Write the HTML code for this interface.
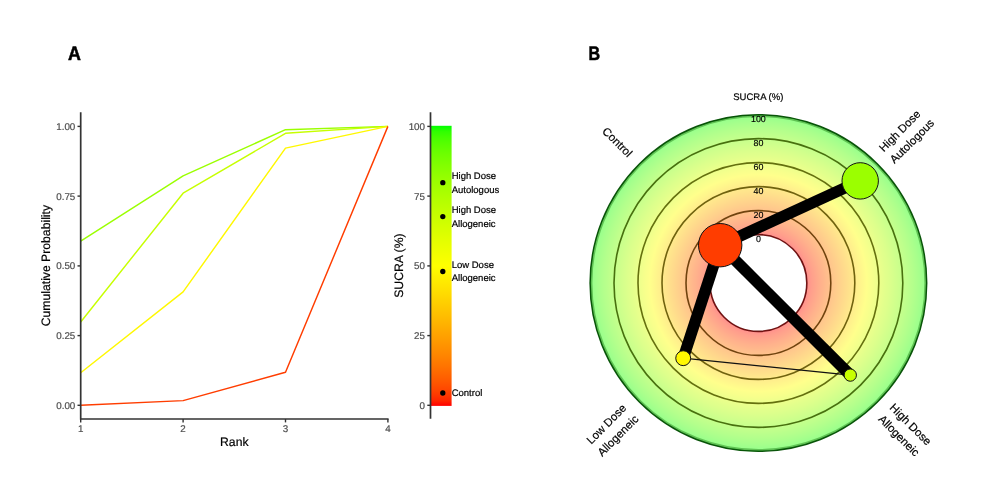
<!DOCTYPE html>
<html lang="en"><head><meta charset="utf-8"><title>SUCRA</title>
<style>
html,body{margin:0;padding:0;background:#fff;}
body{width:986px;height:501px;overflow:hidden;}
svg{display:block;}
text{font-family:"Liberation Sans", Arial, Helvetica, sans-serif;text-rendering:geometricPrecision;}
.tk{font-size:9.8px;fill:#4d4d4d;stroke:#4d4d4d;stroke-width:0.2px;}
.ttl{font-size:12.2px;fill:#000;stroke:#000;stroke-width:0.2px;}
.cb{font-size:9.5px;fill:#000;stroke:#000;stroke-width:0.2px;}
.rl{font-size:8.9px;fill:#000;text-anchor:middle;stroke:#000;stroke-width:0.15px;}
.pl{font-size:11.4px;fill:#000;text-anchor:middle;stroke:#000;stroke-width:0.2px;}
.hd{font-size:19.6px;font-weight:bold;fill:#000;stroke:#000;stroke-width:0.55px;}
</style></head><body>
<svg width="986" height="501" viewBox="0 0 986 501">
<defs>
<linearGradient id="cbg" x1="0" y1="0" x2="0" y2="1">
<stop offset="0.000" stop-color="#00ff00"/>
<stop offset="0.020" stop-color="#2fff00"/>
<stop offset="0.040" stop-color="#44ff00"/>
<stop offset="0.060" stop-color="#54ff00"/>
<stop offset="0.080" stop-color="#61ff00"/>
<stop offset="0.100" stop-color="#6dff00"/>
<stop offset="0.120" stop-color="#77ff00"/>
<stop offset="0.140" stop-color="#81ff00"/>
<stop offset="0.160" stop-color="#8aff00"/>
<stop offset="0.180" stop-color="#93ff00"/>
<stop offset="0.200" stop-color="#9bff00"/>
<stop offset="0.220" stop-color="#a3ff00"/>
<stop offset="0.240" stop-color="#aaff00"/>
<stop offset="0.260" stop-color="#b2ff00"/>
<stop offset="0.280" stop-color="#b9ff00"/>
<stop offset="0.300" stop-color="#c0ff00"/>
<stop offset="0.320" stop-color="#c6ff00"/>
<stop offset="0.340" stop-color="#cdff00"/>
<stop offset="0.360" stop-color="#d4ff00"/>
<stop offset="0.380" stop-color="#daff00"/>
<stop offset="0.400" stop-color="#e1ff00"/>
<stop offset="0.420" stop-color="#e7ff00"/>
<stop offset="0.440" stop-color="#edff00"/>
<stop offset="0.460" stop-color="#f3ff00"/>
<stop offset="0.480" stop-color="#f9ff00"/>
<stop offset="0.500" stop-color="#ffff00"/>
<stop offset="0.520" stop-color="#fff800"/>
<stop offset="0.540" stop-color="#fff000"/>
<stop offset="0.560" stop-color="#ffe900"/>
<stop offset="0.580" stop-color="#ffe200"/>
<stop offset="0.600" stop-color="#ffdb00"/>
<stop offset="0.620" stop-color="#ffd300"/>
<stop offset="0.640" stop-color="#ffcc00"/>
<stop offset="0.660" stop-color="#ffc400"/>
<stop offset="0.680" stop-color="#ffbd00"/>
<stop offset="0.700" stop-color="#ffb500"/>
<stop offset="0.720" stop-color="#ffad00"/>
<stop offset="0.740" stop-color="#ffa500"/>
<stop offset="0.760" stop-color="#ff9d00"/>
<stop offset="0.780" stop-color="#ff9500"/>
<stop offset="0.800" stop-color="#ff8d00"/>
<stop offset="0.820" stop-color="#ff8500"/>
<stop offset="0.840" stop-color="#ff7c00"/>
<stop offset="0.860" stop-color="#ff7300"/>
<stop offset="0.880" stop-color="#ff6900"/>
<stop offset="0.900" stop-color="#ff5f00"/>
<stop offset="0.920" stop-color="#ff5400"/>
<stop offset="0.940" stop-color="#ff4800"/>
<stop offset="0.960" stop-color="#ff3900"/>
<stop offset="0.980" stop-color="#ff2700"/>
<stop offset="1.000" stop-color="#ff0000"/>
</linearGradient>
<radialGradient id="rg" gradientUnits="userSpaceOnUse" cx="758.4" cy="283.0" r="168.40">
<stop offset="0" stop-color="#ff8c8c"/>
<stop offset="0.2874" stop-color="#ff8c8c"/>
<stop offset="0.3017" stop-color="#ff978c"/>
<stop offset="0.3159" stop-color="#ff9e8c"/>
<stop offset="0.3302" stop-color="#ffa38c"/>
<stop offset="0.3444" stop-color="#ffa88c"/>
<stop offset="0.3587" stop-color="#ffad8c"/>
<stop offset="0.3729" stop-color="#ffb28c"/>
<stop offset="0.3872" stop-color="#ffb68c"/>
<stop offset="0.4014" stop-color="#ffbb8c"/>
<stop offset="0.4157" stop-color="#ffbf8c"/>
<stop offset="0.4299" stop-color="#ffc38c"/>
<stop offset="0.4442" stop-color="#ffc78c"/>
<stop offset="0.4584" stop-color="#ffcb8c"/>
<stop offset="0.4727" stop-color="#ffcf8c"/>
<stop offset="0.4869" stop-color="#ffd38c"/>
<stop offset="0.5012" stop-color="#ffd78c"/>
<stop offset="0.5154" stop-color="#ffdb8c"/>
<stop offset="0.5297" stop-color="#ffdf8c"/>
<stop offset="0.5439" stop-color="#ffe38c"/>
<stop offset="0.5582" stop-color="#ffe78c"/>
<stop offset="0.5724" stop-color="#ffeb8c"/>
<stop offset="0.5867" stop-color="#ffef8c"/>
<stop offset="0.6010" stop-color="#fff38c"/>
<stop offset="0.6152" stop-color="#fff78c"/>
<stop offset="0.6295" stop-color="#fffb8c"/>
<stop offset="0.6437" stop-color="#ffff8c"/>
<stop offset="0.6580" stop-color="#fbff8c"/>
<stop offset="0.6722" stop-color="#f8ff8c"/>
<stop offset="0.6865" stop-color="#f4ff8c"/>
<stop offset="0.7007" stop-color="#f0ff8c"/>
<stop offset="0.7150" stop-color="#edff8c"/>
<stop offset="0.7292" stop-color="#e9ff8c"/>
<stop offset="0.7435" stop-color="#e5ff8c"/>
<stop offset="0.7577" stop-color="#e1ff8c"/>
<stop offset="0.7720" stop-color="#deff8c"/>
<stop offset="0.7862" stop-color="#daff8c"/>
<stop offset="0.8005" stop-color="#d6ff8c"/>
<stop offset="0.8147" stop-color="#d2ff8c"/>
<stop offset="0.8290" stop-color="#ceff8c"/>
<stop offset="0.8432" stop-color="#caff8c"/>
<stop offset="0.8575" stop-color="#c6ff8c"/>
<stop offset="0.8717" stop-color="#c2ff8c"/>
<stop offset="0.8860" stop-color="#beff8c"/>
<stop offset="0.9002" stop-color="#b9ff8c"/>
<stop offset="0.9145" stop-color="#b5ff8c"/>
<stop offset="0.9287" stop-color="#b0ff8c"/>
<stop offset="0.9430" stop-color="#abff8c"/>
<stop offset="0.9572" stop-color="#a6ff8c"/>
<stop offset="0.9715" stop-color="#a0ff8c"/>
<stop offset="0.9857" stop-color="#99ff8c"/>
<stop offset="1.0000" stop-color="#8cff8c"/>
</radialGradient>
</defs>
<rect width="986" height="501" fill="#fff"/>
<text class="hd" x="67.9" y="59.7" textLength="12.9" lengthAdjust="spacingAndGlyphs">A</text>
<polyline points="80.7,241.2 183.1,175.9 285.5,129.7 387.9,126.4" fill="none" stroke="#9bff00" stroke-width="1.45" stroke-linejoin="round"/>
<polyline points="80.7,322.0 183.1,193.2 285.5,133.3 387.9,126.4" fill="none" stroke="#c7ff00" stroke-width="1.45" stroke-linejoin="round"/>
<polyline points="80.7,372.7 183.1,291.9 285.5,148.1 387.9,126.4" fill="none" stroke="#fff800" stroke-width="1.45" stroke-linejoin="round"/>
<polyline points="80.7,405.2 183.1,400.6 285.5,372.2 387.9,126.4" fill="none" stroke="#ff3d00" stroke-width="1.45" stroke-linejoin="round"/>
<path d="M80.7 112.2 V419 H388.6" fill="none" stroke="#333" stroke-width="1.7" stroke-linecap="butt"/>
<path d="M77.5 405.3 H80.7" stroke="#333" stroke-width="1.4"/>
<text class="tk" x="75.3" y="408.8" text-anchor="end">0.00</text>
<path d="M77.5 335.6 H80.7" stroke="#333" stroke-width="1.4"/>
<text class="tk" x="75.3" y="339.1" text-anchor="end">0.25</text>
<path d="M77.5 265.9 H80.7" stroke="#333" stroke-width="1.4"/>
<text class="tk" x="75.3" y="269.4" text-anchor="end">0.50</text>
<path d="M77.5 196.1 H80.7" stroke="#333" stroke-width="1.4"/>
<text class="tk" x="75.3" y="199.6" text-anchor="end">0.75</text>
<path d="M77.5 126.4 H80.7" stroke="#333" stroke-width="1.4"/>
<text class="tk" x="75.3" y="129.9" text-anchor="end">1.00</text>
<path d="M80.7 419 V422.4" stroke="#333" stroke-width="1.4"/>
<text class="tk" x="80.7" y="432.0" text-anchor="middle">1</text>
<path d="M183.1 419 V422.4" stroke="#333" stroke-width="1.4"/>
<text class="tk" x="183.1" y="432.0" text-anchor="middle">2</text>
<path d="M285.5 419 V422.4" stroke="#333" stroke-width="1.4"/>
<text class="tk" x="285.5" y="432.0" text-anchor="middle">3</text>
<path d="M387.9 419 V422.4" stroke="#333" stroke-width="1.4"/>
<text class="tk" x="387.9" y="432.0" text-anchor="middle">4</text>
<text class="ttl" x="234.3" y="446.0" text-anchor="middle">Rank</text>
<text class="ttl" transform="translate(50.4 265.6) rotate(-90)" text-anchor="middle">Cumulative Probability</text>
<rect x="431.0" y="125.8" width="20.6" height="280.1" fill="url(#cbg)"/>
<path d="M430.5 112.2 V418.8" stroke="#333" stroke-width="1.7" stroke-linecap="butt"/>
<path d="M427.3 405.3 H430.5" stroke="#333" stroke-width="1.4"/>
<text class="tk" x="425.0" y="408.8" text-anchor="end">0</text>
<path d="M427.3 335.6 H430.5" stroke="#333" stroke-width="1.4"/>
<text class="tk" x="425.0" y="339.1" text-anchor="end">25</text>
<path d="M427.3 265.9 H430.5" stroke="#333" stroke-width="1.4"/>
<text class="tk" x="425.0" y="269.4" text-anchor="end">50</text>
<path d="M427.3 196.1 H430.5" stroke="#333" stroke-width="1.4"/>
<text class="tk" x="425.0" y="199.6" text-anchor="end">75</text>
<path d="M427.3 126.4 H430.5" stroke="#333" stroke-width="1.4"/>
<text class="tk" x="425.0" y="129.9" text-anchor="end">100</text>
<text class="ttl" transform="translate(403.2 265.6) rotate(-90)" text-anchor="middle">SUCRA (%)</text>
<circle cx="442.8" cy="182.7" r="2.65" fill="#000"/>
<text class="cb" x="451.7" y="179.2">High Dose</text>
<text class="cb" x="451.7" y="192.6">Autologous</text>
<circle cx="442.8" cy="216.6" r="2.65" fill="#000"/>
<text class="cb" x="451.7" y="213.1">High Dose</text>
<text class="cb" x="451.7" y="226.5">Allogeneic</text>
<circle cx="442.8" cy="271.5" r="2.65" fill="#000"/>
<text class="cb" x="451.7" y="268.0">Low Dose</text>
<text class="cb" x="451.7" y="281.4">Allogeneic</text>
<circle cx="442.8" cy="393.0" r="2.65" fill="#000"/>
<text class="cb" x="451.7" y="396.1">Control</text>
<text class="hd" x="588.6" y="59.7" textLength="11.6" lengthAdjust="spacingAndGlyphs">B</text>
<text class="cb" x="758.3" y="100.1" text-anchor="middle">SUCRA (%)</text>
<circle cx="758.4" cy="283.0" r="168.40" fill="url(#rg)"/>
<circle cx="758.4" cy="283.0" r="48.40" fill="#fff"/>
<circle cx="758.4" cy="283.0" r="48.40" fill="none" stroke="#600000" stroke-opacity="0.9" stroke-width="1.6"/>
<circle cx="758.4" cy="283.0" r="72.40" fill="none" stroke="#603500" stroke-opacity="0.9" stroke-width="1.6"/>
<circle cx="758.4" cy="283.0" r="96.40" fill="none" stroke="#605300" stroke-opacity="0.9" stroke-width="1.6"/>
<circle cx="758.4" cy="283.0" r="120.40" fill="none" stroke="#556000" stroke-opacity="0.9" stroke-width="1.6"/>
<circle cx="758.4" cy="283.0" r="144.40" fill="none" stroke="#3a6000" stroke-opacity="0.9" stroke-width="1.6"/>
<circle cx="758.4" cy="283.0" r="167.20" fill="none" stroke="#1e7a10" stroke-opacity="0.45" stroke-width="2.4"/>
<circle cx="758.4" cy="283.0" r="168.30" fill="none" stroke="#004d00" stroke-opacity="0.95" stroke-width="1.5"/>
<path d="M683.2 358.2 L850.3 375.1" stroke="#111" stroke-width="1.3"/>
<path d="M720.2 245.2 L860.2 180.9" stroke="#000" stroke-width="11.4"/>
<path d="M720.2 245.2 L850.3 375.1" stroke="#000" stroke-width="11.4"/>
<path d="M720.2 245.2 L683.2 358.2" stroke="#000" stroke-width="11.4"/>
<text class="rl" x="758.4" y="241.9">0</text>
<text class="rl" x="758.4" y="217.9">20</text>
<text class="rl" x="758.4" y="193.9">40</text>
<text class="rl" x="758.4" y="169.9">60</text>
<text class="rl" x="758.4" y="145.9">80</text>
<text class="rl" x="758.4" y="121.9">100</text>
<circle cx="720.2" cy="245.2" r="21.70" fill="#ff3d00" stroke="#111" stroke-width="1.0"/>
<circle cx="860.2" cy="180.9" r="18.20" fill="#9bff00" stroke="#111" stroke-width="1.0"/>
<circle cx="850.3" cy="375.1" r="6.15" fill="#c7ff00" stroke="#111" stroke-width="1.0"/>
<circle cx="683.2" cy="358.2" r="7.45" fill="#fff800" stroke="#111" stroke-width="1.0"/>
<g transform="translate(617.5 142.0) rotate(45)"><text class="pl" x="0" y="4.1">Control</text></g>
<g transform="translate(906.4 136.2) rotate(-45)"><text class="pl" x="-1.0" y="-4.6">High Dose</text><text class="pl" x="0.5" y="11.3">Autologous</text></g>
<g transform="translate(904.6 430.8) rotate(45)"><text class="pl" x="-0.3" y="-4.9">High Dose</text><text class="pl" x="-0.5" y="11.3">Allogeneic</text></g>
<g transform="translate(612.4 430.0) rotate(-45)"><text class="pl" x="0" y="-4.6">Low Dose</text><text class="pl" x="0" y="11.8">Allogeneic</text></g>
</svg></body></html>
